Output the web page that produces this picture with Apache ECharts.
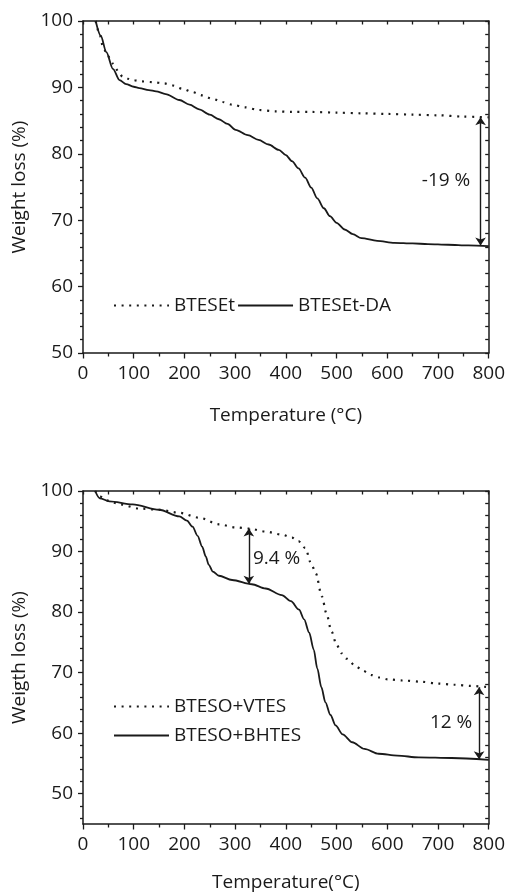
<!DOCTYPE html>
<html>
<head>
<meta charset="utf-8">
<script src="https://cdn.jsdelivr.net/npm/echarts@6/dist/echarts.min.js"></script>
<style>
  html, body { margin: 0; padding: 0; background: #fff; }
  #chart { width: 508px; height: 894px; }
</style>
</head>
<body>
<div id="chart"></div>
<script>
// Thermogravimetric curves: temperature (°C) vs. remaining weight (%)

// Upper panel
const btesetTemp   = [25, 32, 39, 48, 59, 70, 78, 88, 98, 115, 137, 160, 176, 196, 216, 235, 255, 275, 294, 320, 346, 380, 412, 450, 500, 550, 600, 650, 700, 750, 800];
const btesetWeight = [100, 98.2, 96.3, 94.8, 93.6, 92.4, 91.6, 91.3, 91.1, 90.9, 90.8, 90.6, 90.3, 89.8, 89.3, 88.8, 88.3, 87.8, 87.4, 87.0, 86.6, 86.4, 86.3, 86.3, 86.2, 86.1, 86.0, 85.9, 85.8, 85.6, 85.5];

const btesetDaTemp   = [25, 35, 46, 59, 72, 85, 100, 111, 130, 144, 163, 190, 210, 229, 250, 268, 285, 301, 325, 346, 366, 386, 400, 412, 425, 438, 450, 462, 475, 487, 500, 516, 532, 549, 580, 614, 650, 680, 720, 760, 800];
const btesetDaWeight = [100, 97.8, 95.3, 92.8, 91.1, 90.5, 90.1, 89.9, 89.6, 89.4, 89.0, 88.1, 87.4, 86.7, 85.9, 85.2, 84.5, 83.6, 82.8, 82.1, 81.4, 80.6, 79.8, 78.9, 77.8, 76.4, 74.9, 73.3, 71.8, 70.6, 69.6, 68.6, 67.9, 67.3, 66.9, 66.6, 66.5, 66.4, 66.3, 66.2, 66.1];

// Lower panel
const vtesTemp   = [24, 33, 50, 72, 111, 150, 190, 229, 268, 300, 327, 360, 392, 412, 425, 438, 451, 459, 471, 480, 490, 500, 510, 520, 536, 552, 569, 585, 601, 630, 667, 700, 732, 765, 800];
const vtesWeight = [100, 99.1, 98.4, 97.8, 97.1, 96.9, 96.4, 95.6, 94.5, 94.0, 93.8, 93.3, 92.8, 92.3, 91.7, 90.6, 87.8, 86.4, 82.6, 79.8, 76.8, 74.6, 73.2, 72.3, 71.2, 70.3, 69.6, 69.2, 68.9, 68.7, 68.5, 68.2, 68.0, 67.8, 67.6];

const bhtesTemp   = [24, 33, 52, 98, 150, 190, 205, 216, 226, 235, 242, 248, 256, 268, 294, 333, 360, 392, 410, 426, 436, 446, 455, 462, 470, 478, 488, 498, 512, 531, 555, 583, 620, 662, 727, 800];
const bhtesWeight = [100, 98.8, 98.3, 97.8, 96.9, 95.8, 95.1, 94.1, 92.6, 90.8, 89.2, 87.8, 86.7, 86.0, 85.3, 84.6, 83.9, 82.8, 81.8, 80.4, 78.8, 76.6, 73.8, 70.7, 67.6, 65.1, 63.0, 61.3, 59.8, 58.5, 57.4, 56.6, 56.3, 56.0, 55.9, 55.6];

// Axis ticks
const tempTicks         = [0, 100, 200, 300, 400, 500, 600, 700, 800];
const weightTicksTop    = [50, 60, 70, 80, 90, 100];
const weightTicksBottom = [50, 60, 70, 80, 90, 100];

// Difference arrows: [temperature, upper value, lower value]
const gapArrowTop    = [784, 85.5, 66.2];
const gapArrowMid    = [327, 93.8, 84.7];
const gapArrowBottom = [781, 67.6, 55.7];

// Difference labels: [text, temperature, value] (left edge of the text)
const gapLabelTop    = ['-19 %', 668, 75.9];
const gapLabelMid    = ['9.4 %', 335, 88.8];
const gapLabelBottom = ['12 %', 684, 61.8];

const FONT = 'Open Sans';
const INK = '#1a1a1a';
const FS = 19;

const pts = (xs, ys) => xs.map((x, i) => [x, ys[i]]);

// small ticks every 2 % on the lower panel
const minorBottom = [];
for (let v = 46; v <= 100; v += 2) if (v % 10 !== 0) minorBottom.push(v);
const mirrorBottom = [];
for (let v = 46; v <= 100; v += 2) mirrorBottom.push(v);

const lineW = { color: INK, width: 1.5 };
const tickW = { color: INK, width: 1.3 };
const textStyle = { color: INK, fontFamily: FONT, fontSize: FS };

function xMain(grid, name, gap) {
  return {
    type: 'value', gridIndex: grid, position: 'bottom',
    min: tempTicks[0], max: tempTicks[tempTicks.length - 1], interval: 100,
    axisLine: { show: true, onZero: false, lineStyle: lineW },
    axisTick: { show: true, length: 5.5, lineStyle: tickW },
    minorTick: { show: true, splitNumber: 2, length: 3.5, lineStyle: tickW },
    splitLine: { show: false },
    axisLabel: Object.assign({ margin: 11, customValues: tempTicks }, textStyle),
    name: name, nameLocation: 'middle', nameGap: gap,
    nameTextStyle: textStyle
  };
}
function xMirror(grid) {
  return {
    type: 'value', gridIndex: grid, position: 'top',
    min: 0, max: 800, interval: 50,
    axisLine: { show: true, onZero: false, lineStyle: lineW },
    axisTick: { show: true, inside: true, length: 3.5, lineStyle: tickW },
    axisLabel: { show: false }, splitLine: { show: false }
  };
}
function curve(name, xi, yi, xs, ys, dotted) {
  return {
    name: name, type: 'line', xAxisIndex: xi, yAxisIndex: yi,
    data: pts(xs, ys), symbol: 'none', smooth: 0.3, smoothMonotone: 'x',
    lineStyle: dotted ? { color: INK, width: 2.2, type: [2, 5.6] } : { color: INK, width: 1.8, type: 'solid' },
    itemStyle: { color: INK }
  };
}
function arrows(xi, yi, list) {
  return {
    type: 'lines', coordinateSystem: 'cartesian2d', xAxisIndex: xi, yAxisIndex: yi,
    symbol: ['arrow', 'arrow'], symbolSize: 8, silent: true, z: 5,
    lineStyle: { color: INK, width: 1.4, opacity: 1 },
    data: list.map(a => ({ coords: [[a[0], a[1]], [a[0], a[2]]] }))
  };
}
function notes(xi, yi, list) {
  return {
    type: 'scatter', xAxisIndex: xi, yAxisIndex: yi, symbolSize: 0, silent: true,
    itemStyle: { opacity: 1 },
    label: Object.assign({ show: true, position: 'right', distance: 0, formatter: p => p.data.text }, textStyle),
    data: list.map(n => ({ value: [n[1], n[2]], text: n[0] }))
  };
}
const legendBase = {
  itemWidth: 55, itemHeight: 14, selectedMode: false,
  itemStyle: { opacity: 0 }, textStyle: textStyle
};

const option = {
  animation: false,
  backgroundColor: '#fff',
  grid: [
    { left: 83, top: 21, width: 408, height: 332 },
    { left: 83, top: 491, width: 408, height: 333 }
  ],
  xAxis: [
    xMain(0, 'Temperature (\u00B0C)', 53),
    xMirror(0),
    xMain(1, 'Temperature(\u00B0C)', 49),
    xMirror(1)
  ],
  yAxis: [
    {
      type: 'value', gridIndex: 0, position: 'left', min: 50, max: 100, interval: 10,
      axisLine: { show: true, onZero: false, lineStyle: lineW },
      axisTick: { show: true, length: 5, lineStyle: tickW },
      minorTick: { show: true, splitNumber: 5, length: 3, lineStyle: tickW },
      splitLine: { show: false },
      axisLabel: Object.assign({ margin: 10, customValues: weightTicksTop }, textStyle),
      name: 'Weight loss (%)', nameLocation: 'middle', nameGap: 50,
      nameTextStyle: textStyle
    },
    {
      type: 'value', gridIndex: 0, position: 'right', min: 50, max: 100, interval: 2,
      axisLine: { show: true, onZero: false, lineStyle: lineW },
      axisTick: { show: true, inside: true, length: 3.5, lineStyle: tickW },
      axisLabel: { show: false }, splitLine: { show: false }
    },
    {
      type: 'value', gridIndex: 1, position: 'left', min: 45, max: 100,
      axisLine: { show: true, onZero: false, lineStyle: lineW },
      axisTick: { show: true, length: 5, lineStyle: tickW, customValues: weightTicksBottom },
      splitLine: { show: false },
      axisLabel: Object.assign({ margin: 10, customValues: weightTicksBottom }, textStyle),
      name: 'Weigth loss (%)', nameLocation: 'middle', nameGap: 50,
      nameTextStyle: textStyle
    },
    {
      type: 'value', gridIndex: 1, position: 'right', min: 45, max: 100,
      axisLine: { show: true, onZero: false, lineStyle: lineW },
      axisTick: { show: true, inside: true, length: 3.5, lineStyle: tickW, customValues: mirrorBottom },
      axisLabel: { show: false }, splitLine: { show: false }
    },
    {
      type: 'value', gridIndex: 1, position: 'left', min: 45, max: 100,
      axisLine: { show: false },
      axisTick: { show: true, length: 3, lineStyle: tickW, customValues: minorBottom },
      axisLabel: { show: false }, splitLine: { show: false }
    }
  ],
  legend: [
    Object.assign({
      data: ['BTESEt', 'BTESEt-DA'], orient: 'horizontal',
      left: 108, top: 291, itemGap: 2
    }, legendBase),
    Object.assign({
      data: ['BTESO+VTES', 'BTESO+BHTES'], orient: 'vertical',
      left: 108, top: 692, itemGap: 10
    }, legendBase)
  ],
  series: [
    curve('BTESEt', 0, 0, btesetTemp, btesetWeight, true),
    curve('BTESEt-DA', 0, 0, btesetDaTemp, btesetDaWeight, false),
    curve('BTESO+VTES', 2, 2, vtesTemp, vtesWeight, true),
    curve('BTESO+BHTES', 2, 2, bhtesTemp, bhtesWeight, false),
    arrows(0, 0, [gapArrowTop]),
    arrows(2, 2, [gapArrowMid, gapArrowBottom]),
    notes(0, 0, [gapLabelTop]),
    notes(2, 2, [gapLabelMid, gapLabelBottom])
  ]
};

const chart = echarts.init(document.getElementById('chart'), null, { renderer: 'canvas' });
chart.setOption(option);
</script>
</body>
</html>
